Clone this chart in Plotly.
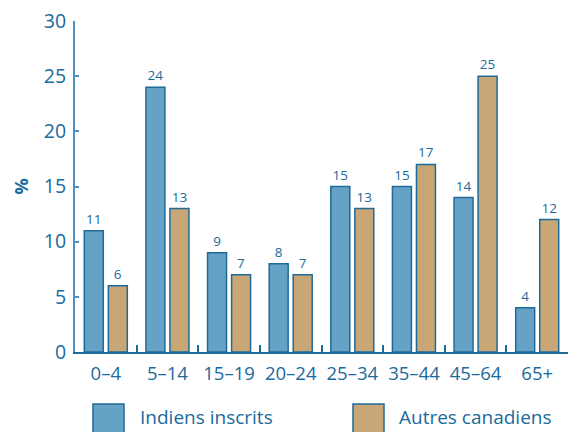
import plotly.graph_objects as go

categories = ["0–4", "5–14", "15–19", "20–24", "25–34", "35–44", "45–64", "65+"]
indiens = [11, 24, 9, 8, 15, 15, 14, 4]
autres = [6, 13, 7, 7, 13, 17, 25, 12]
series_names = ["Indiens inscrits", "Autres canadiens"]
y_ticks = [0, 5, 10, 15, 20, 25, 30]

TXT = "#1b6a9c"
BLUE = "#66a2c6"
TAN = "#c9a676"
EDGE = "#1f6b98"
FONT = "Open Sans"

fig = go.Figure()
for name, vals, col in [(series_names[0], indiens, BLUE), (series_names[1], autres, TAN)]:
    fig.add_trace(go.Bar(
        x=categories, y=vals, name=name,
        marker=dict(color=col, line=dict(color=EDGE, width=1.5)),
        text=[str(v) for v in vals], textposition="outside",
        textfont=dict(size=13.5, color=TXT, family=FONT),
        constraintext="none", cliponaxis=False, showlegend=False,
    ))

W, H = 568, 432
L, R, T, B = 75, 0, 21, 80
pw, ph = W - L - R, H - T - B

def px(x):
    return (x - L) / pw

def py(y):
    return (H - B - y) / ph

shapes = []
annotations = []
for (x0, x1, tx), name, col in zip([(93, 124, 138), (353, 384, 397)], series_names, [BLUE, TAN]):
    shapes.append(dict(type="rect", xref="paper", yref="paper",
                       x0=px(x0), x1=px(x1), y0=py(404), y1=py(440),
                       fillcolor=col, line=dict(color=EDGE, width=1.5)))
    annotations.append(dict(xref="paper", yref="paper", x=px(tx), y=py(417),
                            xanchor="left", yanchor="middle", showarrow=False,
                            text=name, font=dict(size=19, color=TXT, family=FONT)))

fig.update_layout(
    width=W, height=H,
    margin=dict(l=L, r=R, t=T, b=B),
    paper_bgcolor="white", plot_bgcolor="white",
    barmode="group", bargap=0.22, bargroupgap=0.21,
    font=dict(family=FONT, color=TXT),
    shapes=shapes, annotations=annotations,
    xaxis=dict(
        type="category", tickson="boundaries", ticks="inside", ticklen=7,
        tickcolor=EDGE, tickwidth=1.5, showline=True, linecolor=EDGE, linewidth=2,
        showgrid=False, tickfont=dict(size=18.5, color=TXT, family=FONT),
        range=[-0.5, 7.5], ticklabelstandoff=4,
    ),
    yaxis=dict(
        range=[0, 30], tickvals=y_ticks, ticks="inside", ticklen=4,
        tickcolor="#4f8fbd", tickwidth=1.5, showline=True, linecolor="#4f8fbd",
        linewidth=2, showgrid=False, zeroline=False,
        tickfont=dict(size=19.5, color=TXT, family=FONT), ticklabelstandoff=3,
        title=dict(text="<b>%</b>", font=dict(size=18, color=TXT, family=FONT), standoff=10),
    ),
)

fig.write_html("out.html", config={"displayModeBar": False},
               post_script="document.body.style.margin='0';document.body.style.overflow='hidden';")
